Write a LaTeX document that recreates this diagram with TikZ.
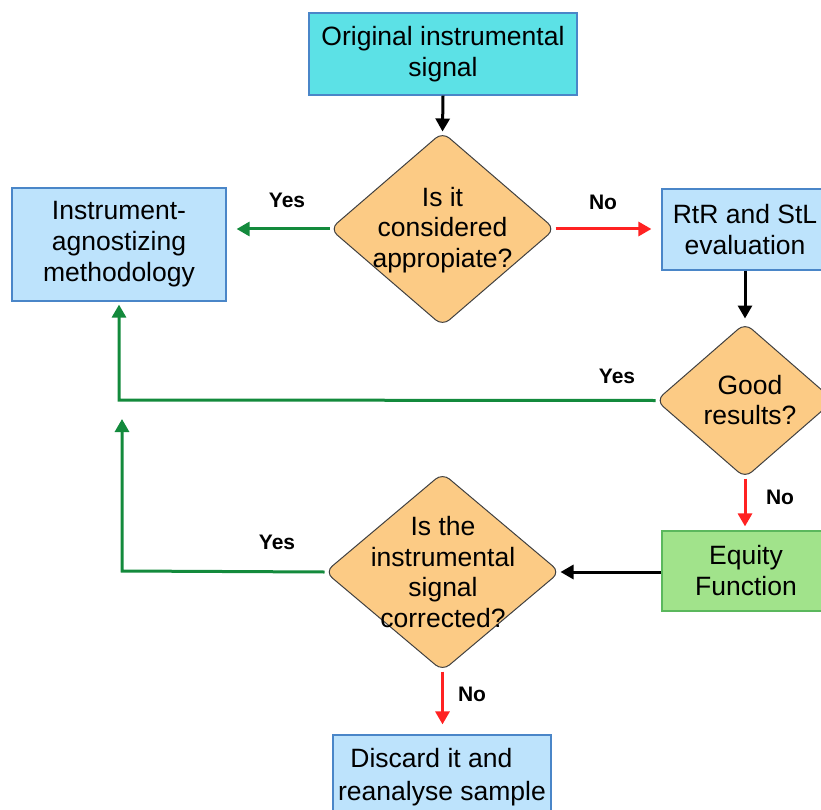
\documentclass[tikz,border=0pt]{standalone}
\usepackage{fontspec}
\setmainfont{Liberation Sans}
\usetikzlibrary{shapes.geometric,arrows.meta}
\definecolor{cyanfill}{HTML}{5CE1E6}
\definecolor{bluefill}{HTML}{BDE3FC}
\definecolor{blueline}{HTML}{4A86C8}
\definecolor{orangefill}{HTML}{FCCB85}
\definecolor{greenfill}{HTML}{A1E38B}
\definecolor{greenline}{HTML}{5BB85D}
\definecolor{yesgreen}{HTML}{138A3C}
\definecolor{nored}{HTML}{FF2222}
\tikzset{
  box/.style={rectangle, draw=blueline, line width=1.2pt, fill=bluefill, inner sep=0pt,
    align=center, font=\fontsize{26.5pt}{31pt}\selectfont},
  decision/.style={diamond, draw=black!75, line width=1pt, fill=orangefill, inner sep=0pt,
    rounded corners=9pt},
  dtext/.style={align=center, font=\fontsize{26.5pt}{30.5pt}\selectfont},
  flow/.style={line width=3pt, -{Triangle[length=13pt,width=14pt]}},
  yesarrow/.style={flow, draw=yesgreen, color=yesgreen},
  noarrow/.style={flow, draw=nored, color=nored},
  plainarrow/.style={flow, draw=black},
  answer/.style={font=\fontsize{21pt}{24pt}\selectfont\bfseries}
}
\begin{document}
\begin{tikzpicture}[x=1pt,y=-1pt]
\useasboundingbox (0,0) rectangle (821,810);
\clip (0,0) rectangle (821,810);

% boxes
\node[box, fill=cyanfill, minimum width=268pt, minimum height=82pt] (orig) at (443,54)
  {Original instrumental\\signal};
\node[box, minimum width=214pt, minimum height=113pt] (agn) at (119,244.5)
  {Instrument-\\agnostizing\\methodology};
\node[box, minimum width=166pt, minimum height=81pt] (rtr) at (745,229.5)
  {RtR and StL\\evaluation};
\node[box, fill=greenfill, draw=greenline, minimum width=168pt, minimum height=80pt] (eq) at (746,571)
  {Equity\\Function};
\node[box, minimum width=218pt, minimum height=94pt] (disc) at (442,782)
  {};
\node[dtext, font=\fontsize{26.5pt}{33pt}\selectfont] (disctext) at (442,777)
  {Discard it and\hspace*{0.8em}\\reanalyse sample};

% decisions
\node[decision, minimum width=225pt, minimum height=194pt] (d1) at (442.5,229) {};
\node[dtext] at (442.5,230) {Is it\\considered\\appropiate?};
\node[decision, minimum width=178pt, minimum height=155pt] (d2) at (745,400.5) {};
\node[dtext] at (750,400) {Good\\results?};
\node[decision, minimum width=235pt, minimum height=198pt] (d3) at (442.5,572) {};
\node[dtext] at (443,572) {Is the\\instrumental\\signal\\corrected?};

% free ends of the return lines
\coordinate (ret1) at (119,400);
\coordinate (ret2) at (122,571);
\coordinate (ret2end) at (122,419);

% connectors
\draw[plainarrow] (orig.south) -- (d1.north);
\draw[yesarrow, shorten >=10pt] (d1.west) -- (d1.west -| agn.east);
\draw[noarrow, shorten >=10pt] (d1.east) -- (d1.east -| rtr.west);
\draw[plainarrow, shorten >=4pt] (rtr.south -| d2.north) -- (d2.north);
\draw[yesarrow, shorten >=3pt] (d2.west) -- (ret1) -- (agn.south);
\draw[noarrow, shorten >=4pt] (d2.south) -- (eq.north -| d2.south);
\draw[plainarrow] (eq.west |- d3.east) -- (d3.east);
\draw[yesarrow] (d3.west) -- (ret2) -- (ret2end);
\draw[noarrow, shorten >=10pt] (d3.south) -- (disc.north -| d3.south);

% answers
\node[answer] at (287,200) {Yes};
\node[answer] at (603,202) {No};
\node[answer] at (617,376) {Yes};
\node[answer] at (780,497) {No};
\node[answer] at (277,542) {Yes};
\node[answer] at (472,694) {No};
\end{tikzpicture}
\end{document}
